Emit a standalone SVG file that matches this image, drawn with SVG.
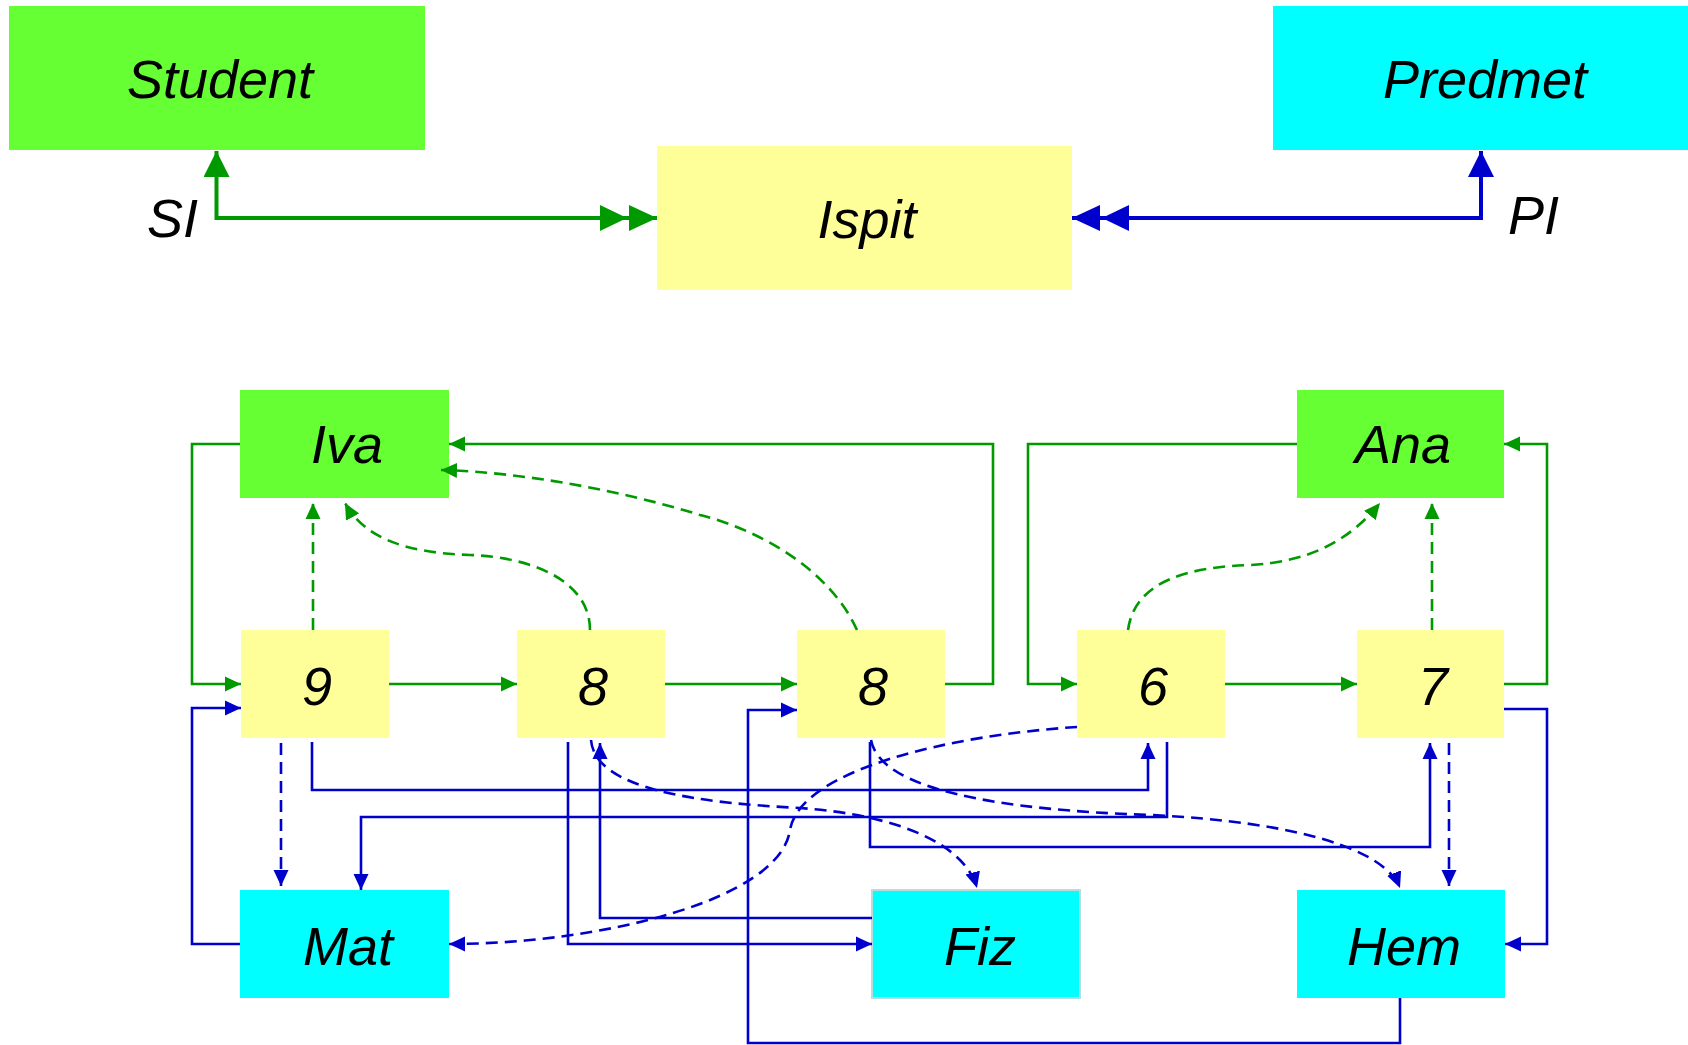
<svg xmlns="http://www.w3.org/2000/svg" width="1688" height="1045" viewBox="0 0 1688 1045">
<style>
.lbl{font-family:"Liberation Sans",Arial,sans-serif;font-style:italic;font-size:54px;fill:#000;text-anchor:middle}
.lbl2{font-family:"Liberation Sans",Arial,sans-serif;font-style:italic;font-size:54px;fill:#000}
.grn{fill:#66FF33}
.yel{fill:#FFFF99}
.cyn{fill:#00FFFF}
.cg{fill:none;stroke:#009900;stroke-width:2.6}
.cb{fill:none;stroke:#0000CC;stroke-width:2.6}
.dash{stroke-dasharray:12 7}
.tg{fill:none;stroke:#009900;stroke-width:4}
.tb{fill:none;stroke:#0000CC;stroke-width:4}
</style>
<defs>
<marker id="arrG" viewBox="0 0 16 16" markerWidth="16" markerHeight="16" markerUnits="userSpaceOnUse" refX="16" refY="8" orient="auto"><path d="M0,0.5 L16,8 L0,15.5z" fill="#009900"/></marker>
<marker id="arrB" viewBox="0 0 16 16" markerWidth="16" markerHeight="16" markerUnits="userSpaceOnUse" refX="16" refY="8" orient="auto"><path d="M0,0.5 L16,8 L0,15.5z" fill="#0000CC"/></marker>
<marker id="bigG" viewBox="0 0 26 26" markerWidth="26" markerHeight="26" markerUnits="userSpaceOnUse" refX="26" refY="13" orient="auto-start-reverse"><path d="M0,0 L26,13 L0,26z" fill="#009900"/></marker>
<marker id="bigB" viewBox="0 0 26 26" markerWidth="26" markerHeight="26" markerUnits="userSpaceOnUse" refX="26" refY="13" orient="auto-start-reverse"><path d="M0,0 L26,13 L0,26z" fill="#0000CC"/></marker>
<marker id="dblG" viewBox="0 0 57 26" markerWidth="57" markerHeight="26" markerUnits="userSpaceOnUse" refX="57" refY="13" orient="auto"><path d="M0,0 L27,13 L0,26z M29,0 L57,13 L29,26z" fill="#009900"/></marker>
<marker id="dblB" viewBox="0 0 57 26" markerWidth="57" markerHeight="26" markerUnits="userSpaceOnUse" refX="57" refY="13" orient="auto"><path d="M0,0 L27,13 L0,26z M29,0 L57,13 L29,26z" fill="#0000CC"/></marker>
</defs>
<rect width="1688" height="1045" fill="#fff"/>

<g id="student"><rect class="grn" x="9" y="6" width="416" height="144"/><text class="lbl" x="220" y="98">Student</text></g>
<g id="ispit"><rect class="yel" x="657" y="146" width="415" height="144"/><text class="lbl" x="867" y="238">Ispit</text></g>
<g id="predmet"><rect class="cyn" x="1273" y="6" width="415" height="144"/><text class="lbl" x="1485" y="98">Predmet</text></g>

<g id="iva"><rect class="grn" x="240" y="390" width="209" height="108"/><text class="lbl" x="347" y="463">Iva</text></g>
<g id="ana"><rect class="grn" x="1297" y="390" width="207" height="108"/><text class="lbl" x="1403" y="463">Ana</text></g>
<g id="o9"><rect class="yel" x="241" y="630" width="148" height="108"/><text class="lbl" x="317" y="705">9</text></g>
<g id="o8a"><rect class="yel" x="517" y="630" width="148" height="108"/><text class="lbl" x="593" y="705">8</text></g>
<g id="o8b"><rect class="yel" x="797" y="630" width="148" height="108"/><text class="lbl" x="873" y="705">8</text></g>
<g id="o6"><rect class="yel" x="1077" y="630" width="148" height="108"/><text class="lbl" x="1153" y="705">6</text></g>
<g id="o7"><rect class="yel" x="1357" y="630" width="147" height="108"/><text class="lbl" x="1433" y="705">7</text></g>
<g id="mat"><rect class="cyn" x="240" y="890" width="209" height="108"/><text class="lbl" x="348" y="965">Mat</text></g>
<g id="fiz"><rect class="cyn" x="872" y="890" width="208" height="108" stroke="#b4dede" stroke-width="2"/><text class="lbl" x="980" y="965">Fiz</text></g>
<g id="hem"><rect class="cyn" x="1297" y="890" width="208" height="108"/><text class="lbl" x="1404" y="965">Hem</text></g>

<g id="labels">
<text class="lbl2" x="147" y="237">SI</text>
<text class="lbl2" x="1508" y="234">PI</text>
</g>

<g id="connectors">
<path class="tg" d="M216.5,151 V218 H657" marker-start="url(#bigG)" marker-end="url(#dblG)"/>
<path class="tb" d="M1481,151 V218 H1072" marker-start="url(#bigB)" marker-end="url(#dblB)"/>

<path class="cg" d="M240,444 H192 V684 H241" marker-end="url(#arrG)"/>
<path class="cg" d="M389,684 H517" marker-end="url(#arrG)"/>
<path class="cg" d="M665,684 H797" marker-end="url(#arrG)"/>
<path class="cg" d="M945,684 H993 V444 H449" marker-end="url(#arrG)"/>
<path class="cg" d="M1297,444 H1028 V684 H1077" marker-end="url(#arrG)"/>
<path class="cg" d="M1225,684 H1357" marker-end="url(#arrG)"/>
<path class="cg" d="M1504,684 H1547 V444 H1504" marker-end="url(#arrG)"/>

<path class="cg dash" d="M313,630 V503" marker-end="url(#arrG)"/>
<path class="cg dash" d="M590,630 C590,580 530,557 470,555 C410,553 365,540 345,503" marker-end="url(#arrG)"/>
<path class="cg dash" d="M857,630 C830,570 760,530 700,515 C620,490 520,472 441,470" marker-end="url(#arrG)"/>
<path class="cg dash" d="M1128,630 C1135,580 1190,567 1250,565 C1310,562 1350,540 1380,503" marker-end="url(#arrG)"/>
<path class="cg dash" d="M1432,630 V503" marker-end="url(#arrG)"/>

<path class="cb" d="M240,944 H192 V708 H241" marker-end="url(#arrB)"/>
<path class="cb" d="M312,742 V790 H1148 V743" marker-end="url(#arrB)"/>
<path class="cb" d="M1167,742 V817 H361 V890" marker-end="url(#arrB)"/>
<path class="cb" d="M568,742 V944 H872" marker-end="url(#arrB)"/>
<path class="cb" d="M872,918 H600 V743" marker-end="url(#arrB)"/>
<path class="cb" d="M870,742 V847 H1430 V743" marker-end="url(#arrB)"/>
<path class="cb" d="M1504,709 H1547 V944 H1505" marker-end="url(#arrB)"/>
<path class="cb" d="M1400,998 V1043 H748 V710 H797" marker-end="url(#arrB)"/>

<path class="cb dash" d="M281,743 V886" marker-end="url(#arrB)"/>
<path class="cb dash" d="M1449,743 V886" marker-end="url(#arrB)"/>
<path class="cb dash" d="M591,740 C595,790 700,803 800,808 C900,815 965,845 977,888" marker-end="url(#arrB)"/>
<path class="cb dash" d="M871,740 C880,790 1000,810 1150,815 C1300,822 1385,850 1400,888" marker-end="url(#arrB)"/>
<path class="cb dash" d="M1077,727 C950,735 800,770 790,830 C780,900 600,944 449,944" marker-end="url(#arrB)"/>
</g>
</svg>
